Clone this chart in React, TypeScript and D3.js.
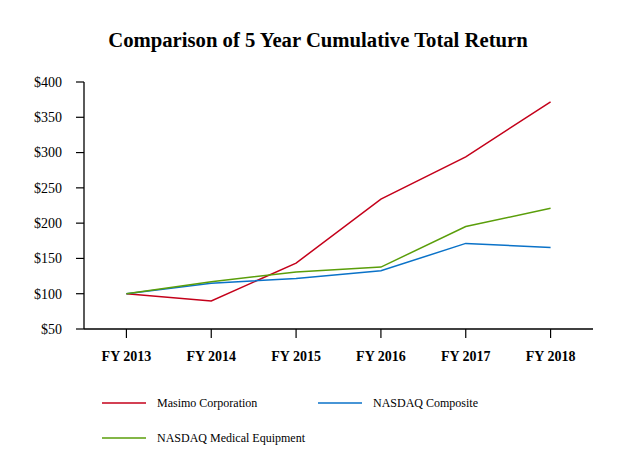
import React from "react";
import * as d3 from "d3";

const years = ["FY 2013", "FY 2014", "FY 2015", "FY 2016", "FY 2017", "FY 2018"];
const masimo = [100, 89.6, 143.4, 234, 293.8, 372];
const nasdaqComposite = [100, 114.7, 121.7, 132.5, 171.3, 165.6];
const nasdaqMedical = [100, 117, 130.7, 137.7, 195.3, 221];
const yTicks = [50, 100, 150, 200, 250, 300, 350, 400];

const seriesNames = ["Masimo Corporation", "NASDAQ Composite", "NASDAQ Medical Equipment"];
const seriesColors = ["#c4001a", "#0a72c8", "#5a9e0a"];

const W = 621;
const H = 474;
const FONT = "Liberation Serif";

export default function App() {
  const left = 84, right = 593, top = 82, bottom = 329;
  const x = d3.scalePoint<string>().domain(years).range([left, right]).padding(0.5);
  const y = d3.scaleLinear().domain([50, 400]).range([bottom, top]);
  const line = d3
    .line<number>()
    .x((_, i) => x(years[i]) as number)
    .y((d) => y(d));
  const allSeries = [masimo, nasdaqComposite, nasdaqMedical];
  const legendPos = [
    { lx: 102, ly: 403 },
    { lx: 318, ly: 403 },
    { lx: 102, ly: 438 },
  ];
  const ts = { fontFamily: FONT };
  return (
    <svg width={W} height={H} style={{ position: "absolute", left: 0, top: 0, background: "#fff" }}>
      <text x={318} y={47} textAnchor="middle" fontSize={20.7} fontWeight="bold" fill="#000" style={ts}>
        Comparison of 5 Year Cumulative Total Return
      </text>
      <line x1={left} x2={left} y1={top} y2={bottom} stroke="#000" strokeWidth={1.3} />
      {yTicks.map((t) => (
        <g key={t}>
          <line x1={left - 8} x2={left} y1={y(t)} y2={y(t)} stroke="#000" strokeWidth={1.2} />
          <text x={62} y={y(t)} dy="0.35em" textAnchor="end" fontSize={14} fill="#000" style={ts}>
            {"$" + t}
          </text>
        </g>
      ))}
      <line x1={left} x2={right} y1={bottom} y2={bottom} stroke="#000" strokeWidth={1.3} />
      {years.map((yr) => (
        <g key={yr}>
          <line x1={x(yr)} x2={x(yr)} y1={bottom} y2={bottom + 9} stroke="#000" strokeWidth={1.2} />
          <text x={x(yr)} y={356} dy="0.35em" textAnchor="middle" fontSize={14} fontWeight="bold" fill="#000" style={ts}>
            {yr}
          </text>
        </g>
      ))}
      {allSeries.map((s, i) => (
        <path key={i} d={line(s) || ""} fill="none" stroke={seriesColors[i]} strokeWidth={1.5} />
      ))}
      {seriesNames.map((n, i) => (
        <g key={n}>
          <line
            x1={legendPos[i].lx}
            x2={legendPos[i].lx + 44}
            y1={legendPos[i].ly}
            y2={legendPos[i].ly}
            stroke={seriesColors[i]}
            strokeWidth={1.5}
          />
          <text x={legendPos[i].lx + 55} y={legendPos[i].ly} dy="0.35em" fontSize={12} fill="#000" style={ts}>
            {n}
          </text>
        </g>
      ))}
    </svg>
  );
}
